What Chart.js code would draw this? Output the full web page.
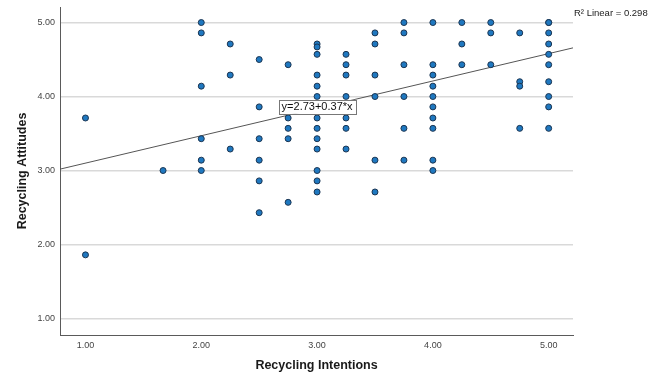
<!DOCTYPE html>
<html>
<head>
<meta charset="utf-8">
<script src="https://cdn.jsdelivr.net/npm/chart.js@4.4.1/dist/chart.umd.min.js"></script>
<style>
  html, body { margin: 0; padding: 0; background: #ffffff; }
  #wrap { width: 657px; height: 375px; }
</style>
</head>
<body>
<div id="wrap"><canvas id="c" width="657" height="375"></canvas></div>
<script>
// Recycling Intentions (x) paired with Recycling Attitudes (y), one entry per respondent
const intentions = [
  1.00, 1.00,
  1.67,
  2.00, 2.00, 2.00, 2.00, 2.00, 2.00,
  2.25, 2.25, 2.25,
  2.50, 2.50, 2.50, 2.50, 2.50, 2.50,
  2.75, 2.75, 2.75, 2.75, 2.75,
  3.00, 3.00, 3.00, 3.00, 3.00, 3.00, 3.00, 3.00, 3.00, 3.00, 3.00, 3.00, 3.00,
  3.25, 3.25, 3.25, 3.25, 3.25, 3.25, 3.25,
  3.50, 3.50, 3.50, 3.50, 3.50, 3.50,
  3.75, 3.75, 3.75, 3.75, 3.75, 3.75,
  4.00, 4.00, 4.00, 4.00, 4.00, 4.00, 4.00, 4.00, 4.00, 4.00,
  4.25, 4.25, 4.25,
  4.50, 4.50, 4.50,
  4.75, 4.75, 4.75, 4.75,
  5.00, 5.00, 5.00, 5.00, 5.00, 5.00, 5.00, 5.00, 5.00, 5.00
];
const attitudes = [
  3.71, 1.86,
  3.00,
  5.00, 4.86, 4.14, 3.43, 3.14, 3.00,
  4.71, 4.29, 3.29,
  4.50, 3.86, 3.43, 3.14, 2.86, 2.43,
  4.43, 3.71, 3.57, 3.43, 2.57,
  4.71, 4.67, 4.57, 4.29, 4.14, 4.00, 3.71, 3.57, 3.43, 3.29, 3.00, 2.86, 2.71,
  4.57, 4.43, 4.29, 4.00, 3.71, 3.57, 3.29,
  4.86, 4.71, 4.29, 4.00, 3.14, 2.71,
  5.00, 4.86, 4.43, 4.00, 3.57, 3.14,
  5.00, 4.43, 4.29, 4.14, 4.00, 3.86, 3.71, 3.57, 3.14, 3.00,
  5.00, 4.71, 4.43,
  5.00, 4.86, 4.43,
  4.86, 4.20, 4.14, 3.57,
  5.00, 5.00, 4.86, 4.71, 4.57, 4.43, 4.20, 4.00, 3.86, 3.57
];

// Fitted linear model and its summary
const intercept = 2.73;
const slope = 0.37;
const rSquared = 0.298;

// Axis ranges and tick values
const xRange = [0.78, 5.21];
const yRange = [0.777, 5.21];
const xTicks = [1, 2, 3, 4, 5];
const yTicks = [1, 2, 3, 4, 5];

const xTitle = 'Recycling Intentions';
const yTitle = 'Recycling Attitudes';
const fitLabel = 'y=' + intercept.toFixed(2) + '+' + slope.toFixed(2) + '*x';
const r2Label = 'R\u00B2 Linear = ' + rSquared.toFixed(3);

const points = intentions.map((x, i) => ({ x: x, y: attitudes[i] }));
const fitLine = xRange.map(x => ({ x: x, y: intercept + slope * x }));

const FONT = '"Liberation Sans", Arial, sans-serif';

// Axis titles, fit equation box and R² note
const annotations = {
  id: 'annotations',
  afterDraw(chart) {
    const ctx = chart.ctx;
    const xs = chart.scales.x, ys = chart.scales.y;
    ctx.save();

    ctx.fillStyle = '#1a1a1a';
    ctx.font = 'bold 12.5px ' + FONT;
    ctx.textAlign = 'center';
    ctx.textBaseline = 'middle';
    ctx.fillText(xTitle, (chart.chartArea.left + chart.chartArea.right) / 2, 366);

    ctx.save();
    ctx.translate(23, 171);
    ctx.rotate(-Math.PI / 2);
    ctx.fillText(yTitle, 0, 0);
    ctx.restore();

    // equation label box
    ctx.font = '11px ' + FONT;
    const cx = xs.getPixelForValue(3.0);
    const cy = ys.getPixelForValue(3.86);
    const w = ctx.measureText(fitLabel).width + 6;
    const h = 14;
    ctx.fillStyle = '#ffffff';
    ctx.fillRect(cx - w / 2, cy - h / 2, w, h);
    ctx.strokeStyle = '#777777';
    ctx.lineWidth = 1;
    ctx.strokeRect(Math.round(cx - w / 2) + 0.5, Math.round(cy - h / 2) + 0.5, Math.round(w), h);
    ctx.fillStyle = '#111111';
    ctx.fillText(fitLabel, cx, cy + 0.5);

    // R² note
    ctx.font = '9.5px ' + FONT;
    ctx.textAlign = 'left';
    ctx.fillStyle = '#222222';
    ctx.fillText(r2Label, 574, 13);

    ctx.restore();
  }
};

new Chart(document.getElementById('c'), {
  type: 'scatter',
  data: {
    datasets: [
      {
        type: 'line',
        data: fitLine,
        borderColor: '#555555',
        borderWidth: 1,
        pointRadius: 0,
        fill: false,
        order: 2
      },
      {
        data: points,
        backgroundColor: '#1f78c0',
        borderColor: '#1b3552',
        borderWidth: 1,
        pointRadius: 3,
        order: 1
      }
    ]
  },
  options: {
    responsive: false,
    animation: false,
    events: [],
    layout: { padding: { left: 0, right: 84, top: 7, bottom: 0 } },
    plugins: { legend: { display: false }, tooltip: { enabled: false } },
    scales: {
      x: {
        type: 'linear',
        min: xRange[0],
        max: xRange[1],
        afterBuildTicks: s => { s.ticks = xTicks.map(v => ({ value: v })); },
        afterFit: s => { s.height = 40; s.paddingLeft = 0; s.paddingRight = 0; },
        grid: { color: 'rgba(0,0,0,0)', drawTicks: false },
        border: { display: true, color: '#5a5a5a', width: 1 },
        ticks: {
          padding: 5,
          color: '#444444',
          font: { family: FONT, size: 9 },
          callback: v => Number(v).toFixed(2)
        }
      },
      y: {
        type: 'linear',
        min: yRange[0],
        max: yRange[1],
        afterBuildTicks: s => { s.ticks = yTicks.map(v => ({ value: v })); },
        afterFit: s => { s.width = 60; s.paddingTop = 0; s.paddingBottom = 0; },
        grid: { color: '#d9d9d9', lineWidth: 1.5, drawTicks: false },
        border: { display: true, color: '#5a5a5a', width: 1 },
        ticks: {
          padding: 5,
          color: '#444444',
          font: { family: FONT, size: 9 },
          callback: v => Number(v).toFixed(2)
        }
      }
    }
  },
  plugins: [annotations]
});
</script>
</body>
</html>
